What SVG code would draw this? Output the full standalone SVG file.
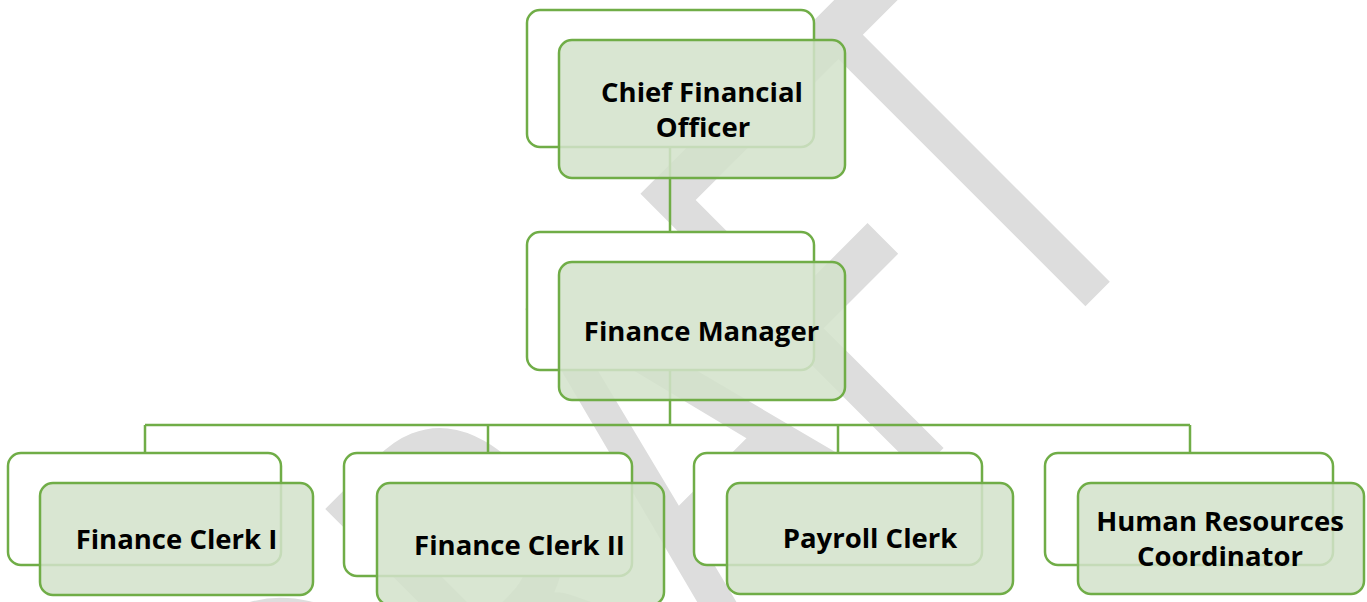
<svg xmlns="http://www.w3.org/2000/svg" width="1367" height="602" viewBox="0 0 1367 602">
<style>
.wm{font-family:"Lato","Liberation Sans",sans-serif;font-weight:400;font-size:550px;fill:#dddddd;text-anchor:middle}
.rear{fill:#ffffff;stroke:#70ad47;stroke-width:2.5}
.front{fill:#d3e2cb;fill-opacity:0.86;stroke:#70ad47;stroke-width:2.5}
.lbl{font-family:"Open Sans","Noto Sans","Liberation Sans",sans-serif;font-weight:bold;font-size:27.5px;fill:#000000;text-anchor:middle}
.conn{fill:none;stroke:#70ad47;stroke-width:2.5}
</style>
<rect width="1367" height="602" fill="#ffffff"/>
<g id="watermark" transform="rotate(-45) scale(0.65 1)">
<text class="wm" x="-446 -78 262 591 874" y="984">DRAFT</text>
</g>
<g id="connectors">
<path class="conn" d="M670 147V232"/>
<path class="conn" d="M670 370V425M145 425H1190M145 425V453M488 425V453M838 425V453M1190 425V453"/>
</g>
<g id="node-cfo">
<rect class="rear" x="527" y="10" width="287" height="137" rx="13"/>
<rect class="front" x="559" y="40" width="286" height="138" rx="13"/>
<text class="lbl"><tspan x="702" y="102">Chief Financial</tspan><tspan x="703" y="137">Officer</tspan></text>
</g>
<g id="node-fm">
<rect class="rear" x="527" y="232" width="287" height="138" rx="13"/>
<rect class="front" x="559" y="262" width="286" height="138" rx="13"/>
<text class="lbl" x="701.5" y="341">Finance Manager</text>
</g>
<g id="node-fc1">
<rect class="rear" x="8" y="453" width="273" height="112" rx="13"/>
<rect class="front" x="40" y="483" width="273" height="112" rx="13"/>
<text class="lbl" x="176.5" y="549">Finance Clerk I</text>
</g>
<g id="node-fc2">
<rect class="rear" x="344" y="453" width="288" height="123" rx="13"/>
<rect class="front" x="377" y="483" width="287" height="122" rx="13"/>
<text class="lbl" x="519.5" y="555">Finance Clerk II</text>
</g>
<g id="node-payroll">
<rect class="rear" x="694" y="453" width="288" height="112" rx="13"/>
<rect class="front" x="727" y="483" width="286" height="111" rx="13"/>
<text class="lbl" x="870" y="548">Payroll Clerk</text>
</g>
<g id="node-hr">
<rect class="rear" x="1045" y="453" width="288" height="112" rx="13"/>
<rect class="front" x="1078" y="483" width="286" height="111" rx="13"/>
<text class="lbl"><tspan x="1220" y="531">Human Resources</tspan><tspan x="1220" y="566">Coordinator</tspan></text>
</g>
</svg>
